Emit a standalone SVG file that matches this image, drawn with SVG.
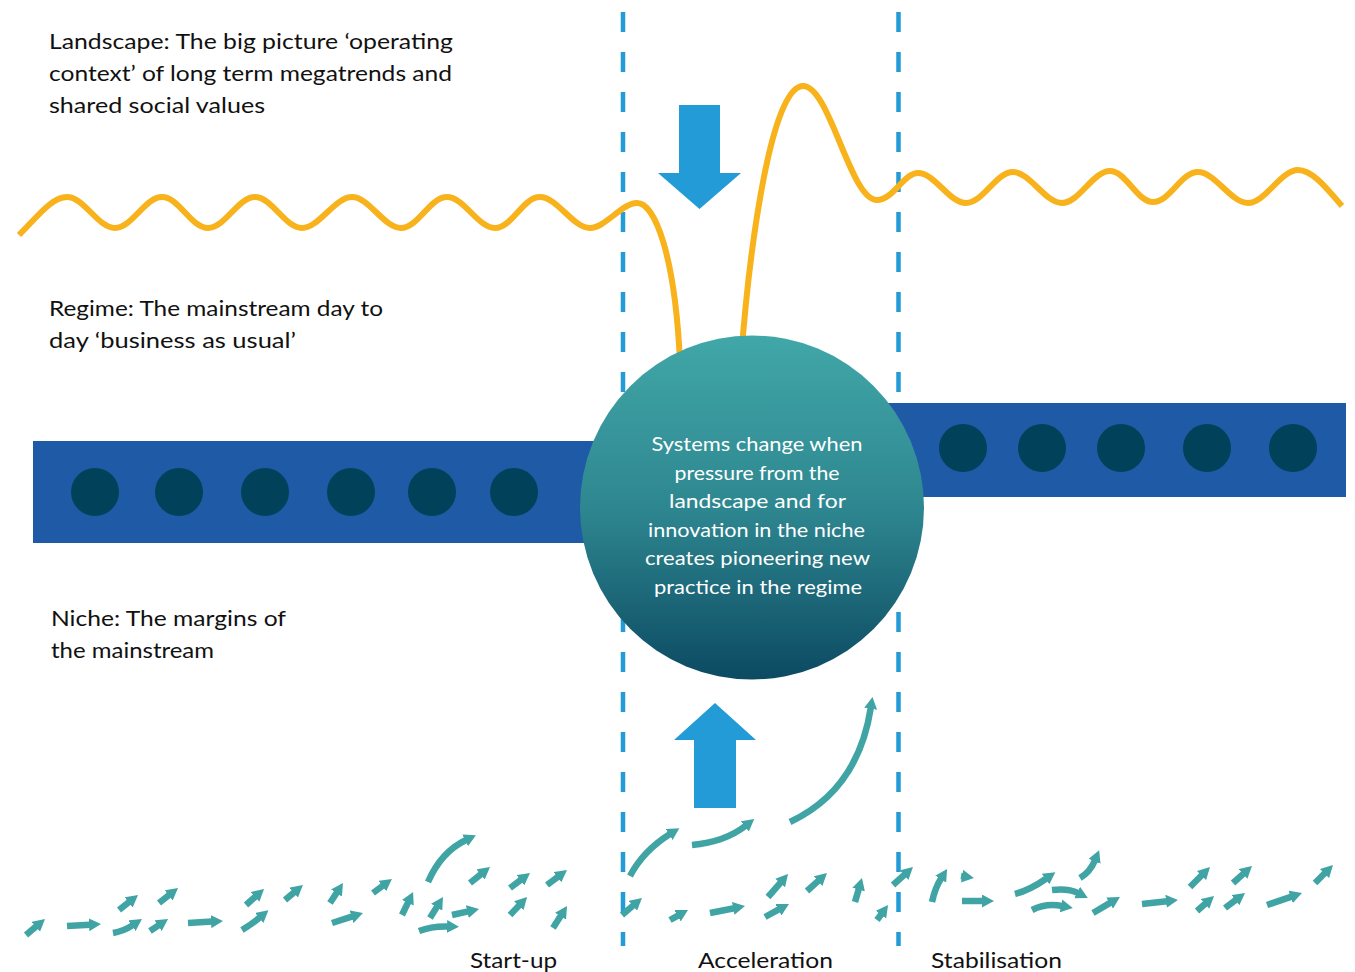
<svg xmlns="http://www.w3.org/2000/svg" width="1355" height="972" viewBox="0 0 1355 972">
<defs>
<linearGradient id="circGrad" x1="0" y1="0" x2="0" y2="1">
<stop offset="0" stop-color="#41A7A8"/>
<stop offset="0.5" stop-color="#2E8790"/>
<stop offset="1" stop-color="#0C4A62"/>
</linearGradient>
<marker id="head" viewBox="0 0 13 13" markerWidth="13" markerHeight="13" refX="1" refY="6.5" orient="auto" markerUnits="userSpaceOnUse">
<path d="M0,0 L12,6.5 L0,13 z" fill="#40A4A5"/>
</marker>
<style>
.lbl{font-family:Lato,"Liberation Sans",sans-serif;font-size:22px;fill:#111;}
.ctext{font-family:Lato,"Liberation Sans",sans-serif;font-size:20px;fill:#fff;text-anchor:middle;}
.dash{stroke:#229BD7;stroke-width:4.5;stroke-dasharray:20 20;fill:none;}
.wave{fill:none;stroke:#F8B21B;stroke-width:6;stroke-linecap:butt;}
.band{fill:#1E5AA5;}
.dot{fill:#01425A;}
.big{fill:#229BD7;}
.na{fill:none;stroke:#40A4A5;stroke-width:6.5;marker-end:url(#head);}
</style>
</defs>
<rect width="1355" height="972" fill="#fff"/>

<g id="phase-dividers">
<line class="dash" x1="623" y1="12" x2="623" y2="946"/>
<line class="dash" x1="898.5" y1="12" x2="898.5" y2="946"/>
</g>

<g id="landscape">
<path class="wave" d="M19,235 C38,216 52,197 67,197 C84,197 98,228 115,228 C132,228 145,197 162,197 C179,197 191,228 208,228 C225,228 238,197 255,197 C272,197 285,228 302,228 C319,228 335,197 352,197 C369,197 384,228 401,228 C418,228 430,197 447,197 C464,197 478,228 495,228 C512,228 523,197 540,197 C557,197 573,228 590,228 C605,228 622,203 637,203 C655,203 675,255 680,362"/>
<path class="wave" d="M741,360 C750,240 772,86 803,86 C830,86 850,200 877,200 C893,200 904,173 918,173 C935,173 949,203 966,203 C983,203 996,172 1013,172 C1030,172 1045,203 1062,203 C1079,203 1093,171 1110,171 C1126,171 1137,202 1153,202 C1170,202 1181,172 1198,172 C1215,172 1231,203 1248,203 C1265,203 1281,170 1298,170 C1313,170 1328,190 1342,206"/>
</g>

<g id="regime-left">
<rect class="band" x="33" y="441" width="570" height="102"/>
<circle class="dot" cx="95" cy="492" r="24"/>
<circle class="dot" cx="179" cy="492" r="24"/>
<circle class="dot" cx="265" cy="492" r="24"/>
<circle class="dot" cx="351" cy="492" r="24"/>
<circle class="dot" cx="432" cy="492" r="24"/>
<circle class="dot" cx="514" cy="492" r="24"/>
</g>

<g id="regime-right">
<rect class="band" x="880" y="403" width="466" height="94"/>
<circle class="dot" cx="963" cy="448" r="24"/>
<circle class="dot" cx="1042" cy="448" r="24"/>
<circle class="dot" cx="1121" cy="448" r="24"/>
<circle class="dot" cx="1207" cy="448" r="24"/>
<circle class="dot" cx="1293" cy="448" r="24"/>
</g>

<g id="pressure-arrows">
<polygon class="big" points="679,105 720,105 720,173 741,173 699.5,209 658,173 679,173"/>
<polygon class="big" points="715,703 756,740 736,740 736,808 694,808 694,740 674,740"/>
</g>

<g id="systems-change">
<circle cx="752" cy="507.5" r="172" fill="url(#circGrad)"/>
<text class="ctext" x="757" y="451" textLength="211" lengthAdjust="spacingAndGlyphs">Systems change when</text>
<text class="ctext" x="757" y="480" textLength="165" lengthAdjust="spacingAndGlyphs">pressure from the</text>
<text class="ctext" x="757.5" y="508" textLength="177" lengthAdjust="spacingAndGlyphs">landscape and for</text>
<text class="ctext" x="756.5" y="537" textLength="217" lengthAdjust="spacingAndGlyphs">innovation in the niche</text>
<text class="ctext" x="757.5" y="565" textLength="225" lengthAdjust="spacingAndGlyphs">creates pioneering new</text>
<text class="ctext" x="758" y="594" textLength="208" lengthAdjust="spacingAndGlyphs">practice in the regime</text>
</g>

<g id="label-landscape">
<text class="lbl" x="49" y="48.5" textLength="404" lengthAdjust="spacingAndGlyphs">Landscape: The big picture ‘operating</text>
<text class="lbl" x="49" y="81" textLength="403" lengthAdjust="spacingAndGlyphs">context’ of long term megatrends and</text>
<text class="lbl" x="49" y="113" textLength="216" lengthAdjust="spacingAndGlyphs">shared social values</text>
</g>
<g id="label-regime">
<text class="lbl" x="49" y="316" textLength="334" lengthAdjust="spacingAndGlyphs">Regime: The mainstream day to</text>
<text class="lbl" x="49" y="348" textLength="247" lengthAdjust="spacingAndGlyphs">day ‘business as usual’</text>
</g>
<g id="label-niche">
<text class="lbl" x="51" y="626" textLength="235" lengthAdjust="spacingAndGlyphs">Niche: The margins of</text>
<text class="lbl" x="51" y="658" textLength="163" lengthAdjust="spacingAndGlyphs">the mainstream</text>
</g>
<g id="phase-labels">
<text class="lbl" x="470" y="968" textLength="87" lengthAdjust="spacingAndGlyphs">Start-up</text>
<text class="lbl" x="698" y="968" textLength="135" lengthAdjust="spacingAndGlyphs">Acceleration</text>
<text class="lbl" x="931" y="968" textLength="131" lengthAdjust="spacingAndGlyphs">Stabilisation</text>
</g>

<g id="connectors">
<path class="na" d="M26,935 L36.6,926.1"/>
<path class="na" d="M67,926 L90,924.7"/>
<path class="na" d="M113,933 Q124,931 132.8,925.1"/>
<path class="na" d="M119,910 L129.4,901.8"/>
<path class="na" d="M150,931 L158.9,925.1"/>
<path class="na" d="M159,903 L169.4,894.8"/>
<path class="na" d="M188,923 L212,921.6"/>
<path class="na" d="M242,930 Q252,924 260,917.3"/>
<path class="na" d="M246,905 L255.8,896.3"/>
<path class="na" d="M285,900 L294.5,892"/>
<path class="na" d="M330,903 L337,892.2"/>
<path class="na" d="M332,923 L352.5,916.4"/>
<path class="na" d="M373,893 L383.1,885.5"/>
<path class="na" d="M402,915 L408.3,901.9"/>
<path class="na" d="M428,882 Q441,852 466,840"/>
<path class="na" d="M430,918 L437.2,906.4"/>
<path class="na" d="M419,931 Q432,926 448,926.5"/>
<path class="na" d="M452,915 L468.3,911.4"/>
<path class="na" d="M470,883 L481.4,873.9"/>
<path class="na" d="M510,888 L521.2,879.6"/>
<path class="na" d="M510,915 L519.5,905"/>
<path class="na" d="M547,885 L558.2,876.6"/>
<path class="na" d="M553,928 L561.1,915.3"/>
<path class="na" d="M630,876 Q643,851 670,834"/>
<path class="na" d="M692,845 Q725,842 745.6,825.8"/>
<path class="na" d="M790,822 Q858,790 870.8,707.8"/>
<path class="na" d="M622,915 L633.6,905.1"/>
<path class="na" d="M670,920 L678.4,915.3"/>
<path class="na" d="M710,913 L734.2,908.2"/>
<path class="na" d="M765,917 L779.3,909.2"/>
<path class="na" d="M768,897 L780.8,882.3"/>
<path class="na" d="M807,891 L818.8,880.4"/>
<path class="na" d="M855,902 L858.9,888.6"/>
<path class="na" d="M877,920 L881.5,913.9"/>
<path class="na" d="M893,885 L904.8,874.4"/>
<path class="na" d="M932,902 Q935,888 941.2,878.3"/>
<path class="na" d="M961,876 L963,876.3"/>
<path class="na" d="M962,901 L983,901"/>
<path class="na" d="M1015,894 Q1030,890 1046.4,878.5"/>
<path class="na" d="M1052,890 Q1068,888 1078,893"/>
<path class="na" d="M1032,910 Q1046,903 1062,906"/>
<path class="na" d="M1080,878 Q1090,872 1094.9,860.4"/>
<path class="na" d="M1093,913 L1110.5,902.6"/>
<path class="na" d="M1142,904 L1167,901.2"/>
<path class="na" d="M1190,887 L1202.2,874.8"/>
<path class="na" d="M1197,911 L1205.8,903.3"/>
<path class="na" d="M1233,883 L1243.8,873.3"/>
<path class="na" d="M1225,908 L1236.2,899.6"/>
<path class="na" d="M1267,905 L1291.6,896.6"/>
<path class="na" d="M1315,883 L1325.2,872.8"/>
</g>
</svg>
